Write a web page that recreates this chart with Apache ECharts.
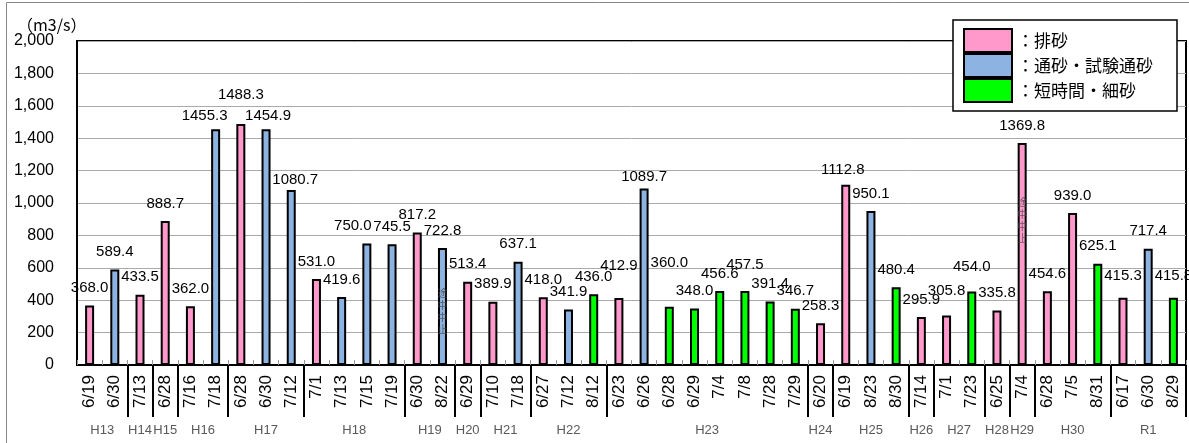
<!DOCTYPE html>
<html><head><meta charset="utf-8">
<script src="https://cdn.jsdelivr.net/npm/echarts@6/dist/echarts.min.js"></script>
<style>html,body{margin:0;padding:0;background:#fff}#c{width:1189px;height:443px}</style>
</head><body><div id="c"></div>
<script>
// ---- data ----
const dates = ['6/19','6/30','7/13','6/28','7/16','7/18','6/28','6/30','7/12','7/1','7/13','7/15','7/19','6/30','8/22','6/29','7/10','7/18','6/27','7/12','8/12','6/23','6/26','6/28','6/29','7/4','7/8','7/28','7/29','6/20','6/19','8/23','8/30','7/14','7/1','7/23','6/25','7/4','6/28','7/5','8/31','6/17','6/30','8/29'];
const yearOf = ['H13','H13','H14','H15','H16','H16','H17','H17','H17','H18','H18','H18','H18','H19','H19','H20','H21','H21','H22','H22','H22','H23','H23','H23','H23','H23','H23','H23','H23','H24','H25','H25','H25','H26','H27','H27','H28','H29','H30','H30','H30','R1','R1','R1'];
const values = [368.0,589.4,433.5,888.7,362.0,1455.3,1488.3,1454.9,1080.7,531.0,419.6,750.0,745.5,817.2,722.8,513.4,389.9,637.1,418.0,341.9,436.0,412.9,1089.7,360.0,348.0,456.6,457.5,391.4,346.7,258.3,1112.8,950.1,480.4,295.9,305.8,454.0,335.8,1369.8,454.6,939.0,625.1,415.3,717.4,415.8];
// 0: 排砂, 1: 通砂・試験通砂, 2: 短時間・細砂
const kinds = [0,1,0,0,0,1,0,1,1,0,1,1,1,0,1,0,0,1,0,1,2,0,1,2,2,2,2,2,2,0,0,1,2,0,0,2,0,0,0,0,2,0,1,2];
const seriesNames = ['排砂','通砂・試験通砂','短時間・細砂'];
const yMin = 0, yMax = 2000, yStep = 200;
const notes = [{index:14, value:333, text:'途中中止'}, {index:37, value:895, text:'途中中止'}];

// ---- style ----
const colors = ['#FF99CC','#8DB3E2','#00FF00'];
const labelNudge = {5:[-11,4],6:[0,-12],7:[2,4],8:[4,7],11:[-14,0],21:[0,-15],22:[0,6],23:[0,-26],26:[0,-9],30:[-3,3],34:[0,-7],35:[0,-7],41:[0,-4],43:[0,-4]};

// groups
const groups = [];
yearOf.forEach((y,i)=>{
  if(!groups.length || groups[groups.length-1].name!==y) groups.push({name:y,start:i,end:i+1});
  else groups[groups.length-1].end=i+1;
});
const boundaries = new Set(groups.slice(1).map(g=>g.start));
const centers = {};
groups.forEach(g=>{centers[((g.start+g.end)/2).toFixed(1)] = g.name;});

const series = seriesNames.map((name,k)=>({
  name, type:'bar', stack:'all', barWidth:9, xAxisIndex:0,
  itemStyle:{color:colors[k], borderColor:'#000', borderWidth:2},
  label:{show:true, position:'top', distance:10, fontSize:15, color:'#000', fontFamily:'Liberation Sans',
    formatter:p=>p.value==null?'':Number(p.value).toFixed(1)},
  data: values.map((v,i)=>{
    if(kinds[i]!==k) return null;
    const item={value:v};
    if(labelNudge[i]) item.label={offset:labelNudge[i]};
    return item;
  })
}));
series.push({
  type:'scatter', xAxisIndex:0, symbolSize:20, itemStyle:{color:'rgba(0,0,0,0)'}, silent:true, z:10,
  data: notes.map(n=>({value:[n.index,n.value], name:n.text})),
  label:{show:true, position:'inside', align:'center', verticalAlign:'middle', fontSize:10, lineHeight:12,
    color:'#444', textBorderWidth:0, fontFamily:'Noto Sans CJK JP',
    formatter:p=>p.name.split('').join('\n')}
});

const chart = echarts.init(document.getElementById('c'));
chart.setOption({
  animation:false,
  backgroundColor:'#fff',
  title:{text:'（m3/s）', left:12, top:12, textStyle:{fontSize:16, fontWeight:'normal', color:'#000', fontFamily:'Noto Sans CJK JP'}},
  graphic:[{type:'rect', shape:{x:6.5,y:2.5,width:1400,height:600}, style:{fill:'none', stroke:'#888', lineWidth:1}, silent:true}],
  legend:{
    orient:'vertical', left:953, top:20, padding:[8,24,8,10], itemGap:0, itemWidth:48, itemHeight:23,
    backgroundColor:'#fff', borderColor:'#000', borderWidth:1.5, icon:'rect',
    formatter:n=>'：'+n,
    textStyle:{fontSize:17, color:'#000', fontFamily:'Noto Sans CJK JP'},
    data:seriesNames
  },
  grid:{left:77, top:41, width:1113, bottom:78, show:true, borderColor:'#000', borderWidth:2, containLabel:false},
  xAxis:[
    {type:'category', data:dates, position:'bottom',
      axisLine:{lineStyle:{color:'#000', width:2}},
      axisTick:{show:true, inside:true, length:5, lineStyle:{color:'#999'}},
      axisLabel:{rotate:90, interval:0, fontSize:17, margin:10, color:'#000', fontFamily:'Liberation Sans'}},
    {type:'value', min:0, max:dates.length, interval:0.5, position:'bottom',
      axisLine:{show:false}, axisTick:{show:false}, splitLine:{show:false},
      axisLabel:{margin:59, fontSize:13, color:'#595959', fontFamily:'Liberation Sans', showMinLabel:true, showMaxLabel:true,
        formatter:v=>centers[v.toFixed(1)]||''}},
    {type:'category', data:dates, position:'bottom',
      axisLine:{show:false}, axisLabel:{show:false},
      axisTick:{show:true, length:52, interval:(i)=>boundaries.has(i), lineStyle:{color:'#000', width:2}}}
  ],
  yAxis:{type:'value', min:yMin, max:yMax, interval:yStep,
    axisLine:{show:true, lineStyle:{color:'#000', width:2}}, axisTick:{show:false},
    splitLine:{lineStyle:{color:'#aaa', width:1}},
    axisLabel:{fontSize:16, color:'#000', margin:23, fontFamily:'Liberation Sans', formatter:v=>v.toLocaleString('en-US')}},
  series
});
</script></body></html>
